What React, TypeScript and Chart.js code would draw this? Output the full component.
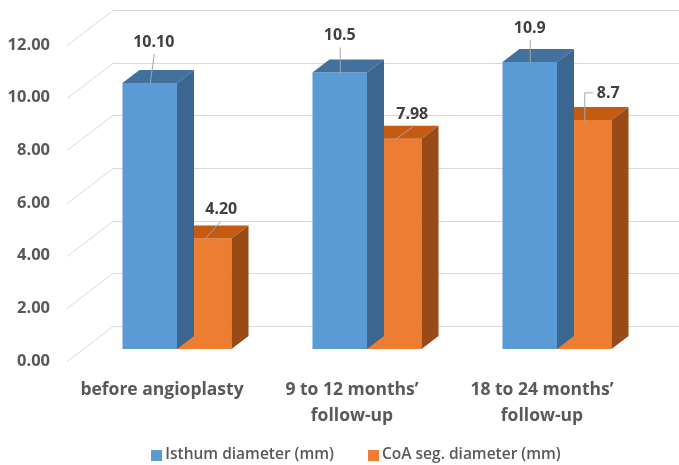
import React, { useEffect, useRef } from 'react';
import { Chart, registerables } from 'chart.js';

Chart.register(...registerables);

// ---- data ----
const categories: (string | string[])[] = [
  'before angioplasty',
  ['9 to 12 months\u2019', 'follow-up'],
  ['18 to 24 months\u2019', 'follow-up'],
];
const seriesNames = ['Isthum diameter (mm)', 'CoA seg. diameter (mm)'];
const isthmusValues = [10.1, 10.5, 10.9];
const coaValues = [4.2, 7.98, 8.7];
const isthmusLabels = ['10.10', '10.5', '10.9'];
const coaLabels = ['4.20', '7.98', '8.7'];
const yMin = 0;
const yMax = 12;
const yStep = 2;

// ---- styles ----
const FONT = '"Open Sans", "Noto Sans", sans-serif';
const FRONT = ['#5B9BD5', '#ED7D31'];
const TOP = ['#41719C', '#C55A11'];
const SIDE = ['#3A6690', '#9A4A17'];
const BAR_SHIFT = { x: 15, y: -12 };
const DEPTH = { x: 17, y: -13 };
const WALL = { x: 46, y: -35 };
const LABEL_LAYOUT = [
  [
    { dx: 4, dy: -41, sx: 4, elbow: false },
    { dx: 0, dy: -37, sx: 0, elbow: false },
    { dx: 0, dy: -34, sx: 0, elbow: false },
  ],
  [
    { dx: 17, dy: -29, sx: 16, elbow: false },
    { dx: 18, dy: -24, sx: 18, elbow: false },
    { dx: 24, dy: -26, sx: 0, elbow: true },
  ],
];
const valueLabels = [isthmusLabels, coaLabels];

const threeD = {
  id: 'threeD',
  beforeDatasetsDraw(chart: any) {
    const { ctx, chartArea, scales } = chart;
    const y = scales.y;
    ctx.save();
    ctx.strokeStyle = '#D9D9D9';
    ctx.lineWidth = 1;
    y.ticks.forEach((t: any) => {
      const py = Math.round(y.getPixelForValue(t.value)) + 0.5;
      ctx.beginPath();
      ctx.moveTo(chartArea.left, py);
      ctx.lineTo(chartArea.left + WALL.x, py + WALL.y);
      ctx.lineTo(chart.width, py + WALL.y);
      ctx.stroke();
    });
    ctx.restore();
  },
  beforeDatasetDraw(chart: any) {
    chart.ctx.save();
    chart.ctx.translate(BAR_SHIFT.x, BAR_SHIFT.y);
  },
  afterDatasetDraw(chart: any, args: any) {
    const ctx = chart.ctx;
    const i = args.index;
    args.meta.data.forEach((bar: any) => {
      const { x, y, base, width } = bar.getProps(['x', 'y', 'base', 'width'], true);
      const l = x - width / 2;
      const r = x + width / 2;
      ctx.fillStyle = TOP[i];
      ctx.beginPath();
      ctx.moveTo(l, y);
      ctx.lineTo(r, y);
      ctx.lineTo(r + DEPTH.x, y + DEPTH.y);
      ctx.lineTo(l + DEPTH.x, y + DEPTH.y);
      ctx.closePath();
      ctx.fill();
      ctx.fillStyle = SIDE[i];
      ctx.beginPath();
      ctx.moveTo(r, y);
      ctx.lineTo(r + DEPTH.x, y + DEPTH.y);
      ctx.lineTo(r + DEPTH.x, base + DEPTH.y);
      ctx.lineTo(r, base);
      ctx.closePath();
      ctx.fill();
    });
    ctx.restore();
  },
  afterDatasetsDraw(chart: any) {
    const ctx = chart.ctx;
    ctx.save();
    ctx.font = `bold 16px ${FONT}`;
    ctx.textAlign = 'center';
    ctx.textBaseline = 'middle';
    chart.data.datasets.forEach((_ds: any, i: number) => {
      const meta = chart.getDatasetMeta(i);
      meta.data.forEach((bar: any, j: number) => {
        const ax = bar.x + BAR_SHIFT.x;
        const ay = bar.y + BAR_SHIFT.y;
        const lay = LABEL_LAYOUT[i][j];
        const lx = ax + lay.dx;
        const ly = ay + lay.dy;
        const text = valueLabels[i][j];
        ctx.strokeStyle = '#A6A6A6';
        ctx.lineWidth = 1;
        ctx.beginPath();
        if (lay.elbow) {
          const tw = ctx.measureText(text).width;
          ctx.moveTo(lx - tw / 2 - 4, ly - 1);
          ctx.lineTo(ax + 0.5, ly - 1);
          ctx.lineTo(ax + 0.5, ay + 2);
        } else {
          ctx.moveTo(ax + lay.sx + 0.5, ly + 12);
          ctx.lineTo(ax + 0.5, ay + 1);
        }
        ctx.stroke();
        ctx.fillStyle = '#404040';
        ctx.fillText(text, lx, ly);
      });
    });
    ctx.restore();
  },
  afterDraw(chart: any) {
    const { ctx, chartArea } = chart;
    ctx.save();
    ctx.font = `600 15.5px ${FONT}`;
    ctx.textBaseline = 'middle';
    ctx.textAlign = 'left';
    const box = 11;
    const gap = 34;
    const items = chart.data.datasets.map((ds: any) => ({
      text: ds.label,
      color: ds.backgroundColor,
      w: box + 3 + ctx.measureText(ds.label).width,
    }));
    const total = items.reduce((s: number, it: any) => s + it.w, 0) + gap * (items.length - 1);
    let x = (chartArea.left + chartArea.right) / 2 + 4 - total / 2;
    const cy = chart.height - 10;
    items.forEach((it: any) => {
      ctx.fillStyle = it.color;
      ctx.fillRect(Math.round(x), Math.round(cy - box / 2), box, box);
      ctx.fillStyle = '#595959';
      ctx.fillText(it.text, x + box + 3, cy);
      x += it.w + gap;
    });
    ctx.restore();
  },
};

export default function App() {
  const ref = useRef<HTMLCanvasElement>(null);
  useEffect(() => {
    if (!ref.current) return;
    const chart = new Chart(ref.current, {
      type: 'bar',
      data: {
        labels: categories as any,
        datasets: [
          { label: seriesNames[0], data: isthmusValues, backgroundColor: FRONT[0], borderWidth: 0, clip: false as any },
          { label: seriesNames[1], data: coaValues, backgroundColor: FRONT[1], borderWidth: 0, clip: false as any },
        ],
      },
      options: {
        responsive: false,
        animation: false,
        devicePixelRatio: 1,
        layout: { padding: { top: 45, right: 42, left: 0, bottom: 0 } },
        datasets: { bar: { categoryPercentage: 0.574, barPercentage: 1 } },
        plugins: { legend: { display: false }, tooltip: { enabled: false } },
        scales: {
          x: {
            grid: { display: false },
            border: { display: false },
            ticks: {
              color: '#595959',
              padding: 8,
              maxRotation: 0,
              autoSkip: false,
              font: { family: FONT, size: 17.5, weight: 'bold', lineHeight: '26px' },
            },
            afterFit: (s: any) => { s.height = 104; },
          },
          y: {
            min: yMin,
            max: yMax,
            grid: { display: false, drawTicks: false },
            border: { display: false },
            ticks: {
              stepSize: yStep,
              padding: 17,
              color: '#595959',
              font: { family: FONT, size: 16.5, weight: 'bold' },
              callback: (v: any) => Number(v).toFixed(2),
            },
            afterFit: (s: any) => { s.width = 67; },
          },
        },
      },
      plugins: [threeD],
    });
    return () => chart.destroy();
  }, []);
  return (
    <div style={{ position: 'absolute', left: 0, top: 0, width: 679, height: 465, background: '#fff' }}>
      <canvas ref={ref} width={679} height={465} />
    </div>
  );
}
